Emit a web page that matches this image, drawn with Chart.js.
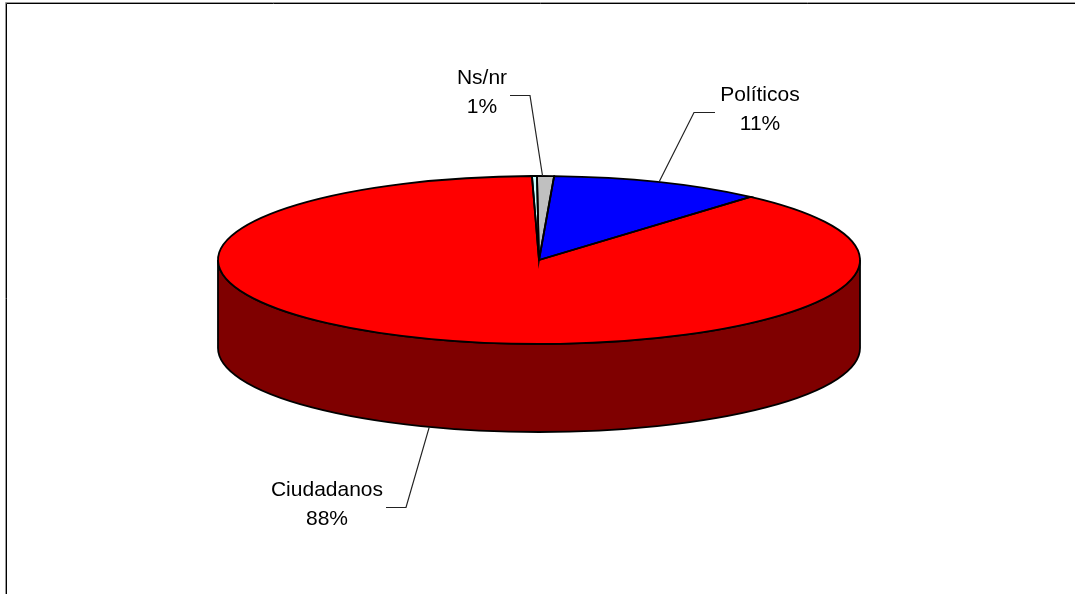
<!DOCTYPE html>
<html>
<head>
<meta charset="utf-8">
<title>Pie</title>
<script src="https://cdn.jsdelivr.net/npm/chart.js@4"></script>
<style>
  html, body { margin: 0; padding: 0; background: #fff; overflow: hidden; }
  canvas { display: block; }
</style>
</head>
<body>
<canvas id="pie" width="1075" height="594"></canvas>
<script>
// clockwise from the top, the third one is the thin sliver next to Ns/nr
const categories = ['Políticos', 'Ciudadanos', '', 'Ns/nr'];
const values = [10.7, 88.2, 0.25, 0.85];
const topColors = ['#0000ff', '#ff0000', '#ccffff', '#c0c0c0'];
const wallColors = ['#000080', '#7f0000', '#668080', '#606060'];

// tilted disc on the page
const disc = { x: 539, y: 260, rx: 321, ry: 84, depth: 88 };

// leader elbow, leader end and label centre for each category
const callouts = [
  { elbow: [694, 112], end: [715, 112], text: [760, 95], rim: 'top' },
  { elbow: [406, 507], end: [386, 507], text: [327, 490], rim: 'wall' },
  null,
  { elbow: [530, 95], end: [510, 95], text: [482, 78], rim: 'top', nudge: -3 }
];

function slicePath(ctx, arc) {
  ctx.beginPath();
  ctx.moveTo(disc.x, disc.y);
  ctx.ellipse(disc.x, disc.y, disc.rx, disc.ry, 0, arc.startAngle, arc.endAngle);
  ctx.closePath();
}

function drawWall(ctx, color, start, end) {
  ctx.save();
  ctx.beginPath();
  ctx.ellipse(disc.x, disc.y, disc.rx, disc.ry, 0, start, end);
  ctx.ellipse(disc.x, disc.y + disc.depth, disc.rx, disc.ry, 0, end, start, true);
  ctx.closePath();
  ctx.fillStyle = color;
  ctx.fill();
  ctx.strokeStyle = '#000';
  ctx.lineWidth = 1.8;
  ctx.stroke();
  ctx.restore();
}

const tiltedPie = {
  id: 'tiltedPie',
  beforeDraw(chart) {
    const ctx = chart.ctx;
    ctx.save();
    ctx.fillStyle = '#fff';
    ctx.fillRect(0, 0, chart.width, chart.height);
    // only the top and left of the frame show, black with a grey edge outside
    ctx.lineWidth = 1;
    ctx.strokeStyle = '#999';
    ctx.beginPath();
    ctx.moveTo(5.5, chart.height);
    ctx.lineTo(5.5, 2.5);
    ctx.lineTo(chart.width, 2.5);
    ctx.stroke();
    ctx.strokeStyle = '#000';
    ctx.beginPath();
    ctx.moveTo(6.5, chart.height);
    ctx.lineTo(6.5, 3.5);
    ctx.lineTo(chart.width, 3.5);
    ctx.stroke();
    ctx.restore();
  },
  beforeDatasetsDraw(chart) {
    const ctx = chart.ctx;
    const arcs = chart.getDatasetMeta(0).data;

    // the wall below the front of the disc
    arcs.forEach((arc, i) => {
      [0, -Math.PI * 2].forEach(turn => {
        const start = Math.max(arc.startAngle + turn, 0);
        const end = Math.min(arc.endAngle + turn, Math.PI);
        if (end > start) drawWall(ctx, wallColors[i], start, end);
      });
    });

    // squash the round pie to the ellipse, undone again after drawing
    const first = arcs[0];
    ctx.save();
    ctx.translate(disc.x, disc.y);
    ctx.scale(disc.rx / first.outerRadius, disc.ry / first.outerRadius);
    ctx.translate(-first.x, -first.y);
  },
  afterDatasetsDraw(chart) {
    const ctx = chart.ctx;
    ctx.restore();
    const arcs = chart.getDatasetMeta(0).data;

    ctx.save();
    ctx.strokeStyle = '#000';
    ctx.lineWidth = 1.8;
    arcs.forEach(arc => {
      slicePath(ctx, arc);
      ctx.stroke();
    });
    ctx.restore();

    ctx.save();
    ctx.font = '21px "Liberation Sans", Arial, sans-serif';
    ctx.textAlign = 'center';
    ctx.textBaseline = 'middle';
    arcs.forEach((arc, i) => {
      const c = callouts[i];
      if (!c) return;
      const mid = (arc.startAngle + arc.endAngle) / 2;
      const ax = disc.x + disc.rx * Math.cos(mid) + (c.nudge || 0);
      const ay = disc.y + disc.ry * Math.sin(mid) + (c.rim === 'wall' ? disc.depth : 0);
      ctx.strokeStyle = '#222';
      ctx.lineWidth = 1.2;
      ctx.beginPath();
      ctx.moveTo(ax, ay);
      ctx.lineTo(c.elbow[0], c.elbow[1] + 0.5);
      ctx.lineTo(c.end[0], c.end[1] + 0.5);
      ctx.stroke();
      ctx.fillStyle = '#000';
      ctx.fillText(categories[i], c.text[0], c.text[1]);
      ctx.fillText(Math.round(values[i]) + '%', c.text[0], c.text[1] + 29);
    });
    ctx.restore();
  }
};

new Chart(document.getElementById('pie'), {
  type: 'pie',
  data: {
    labels: categories,
    datasets: [{
      data: values,
      backgroundColor: topColors,
      borderWidth: 0
    }]
  },
  options: {
    responsive: false,
    animation: false,
    rotation: 2.7,
    layout: { padding: 0 },
    plugins: {
      legend: { display: false },
      tooltip: { enabled: false }
    }
  },
  plugins: [tiltedPie]
});
</script>
</body>
</html>
